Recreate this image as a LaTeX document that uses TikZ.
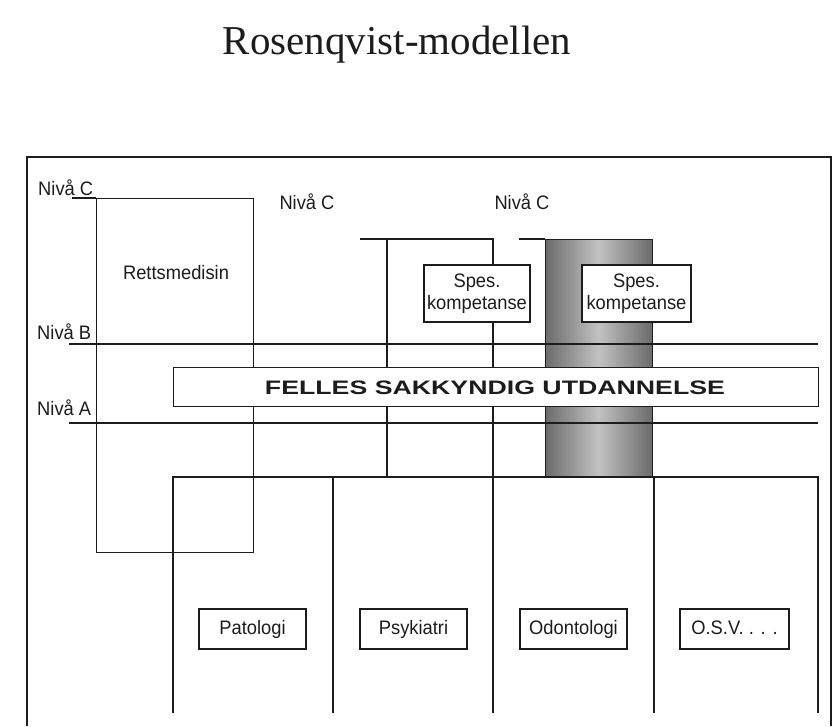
\documentclass[tikz,border=0pt]{standalone}
\usepackage{fontspec}
\setmainfont{Liberation Serif}
\newfontfamily\lsans[FakeStretch=0.94]{Liberation Sans}
\newfontfamily\widebold[FakeStretch=1.37]{Liberation Sans Bold}
\definecolor{ink}{HTML}{1c1c1c}
\begin{document}
\begin{tikzpicture}[x=1pt,y=-1pt,
  ln/.style={draw=ink,line width=1.3pt},
  lbl/.style={font=\lsans\fontsize{19.5}{22}\selectfont,text=ink,inner sep=0pt},
  wbox/.style={draw=ink,line width=1.3pt,fill=white,inner sep=0pt,font=\lsans\fontsize{19.5}{23}\selectfont,text=ink,align=center},
  bbox/.style={wbox,minimum height=40pt,text height=14pt,text depth=4pt},
]
\useasboundingbox (0,0) rectangle (833,726);
\fill[white] (0,0) rectangle (833,726);

% title
\node[font=\fontsize{41}{46}\selectfont,text=ink,inner sep=0pt] (title) at (397,45) {Rosenqvist-modellen};

% outer frame
\coordinate (fbl) at (27,726);
\coordinate (ftl) at (27,157);
\coordinate (ftr) at (831,157);
\coordinate (fbr) at (831,726);
\draw[ln,line width=1.6pt] (fbl) -- (ftl) -- (ftr) -- (fbr);

% shaded column
\shade[left color=black!58,right color=black!58,middle color=black!24] (545,239) rectangle (652,477);
\node[draw=ink,line width=1.3pt,minimum width=107pt,minimum height=238pt,inner sep=0pt,anchor=north west] (shade) at (545,239) {};

% Rettsmedisin box
\node[draw=ink,line width=1.3pt,minimum width=157pt,minimum height=354pt,inner sep=0pt,anchor=north west] (retts) at (96,198) {};
\coordinate (rl) at (72,198);
\draw[ln] (rl) -- (retts.north west);

% Nivaa lines
\coordinate (bL) at (69,344); \coordinate (bR) at (818,344);
\coordinate (aL) at (69,423); \coordinate (aR) at (818,423);
\draw[ln] (bL) -- (bR);
\draw[ln] (aL) -- (aR);

% middle column
\coordinate (m1) at (360,239);
\coordinate (m2) at (387,239);
\coordinate (m3) at (493,239);
\coordinate (m4) at (387,477);
\coordinate (m5) at (493,477);
\draw[ln] (m1) -- (m3) -- (m5);
\draw[ln] (m2) -- (m4);
\coordinate (t1) at (519,239);
\draw[ln] (t1) -- (shade.north west);

% bottom columns
\coordinate (c0) at (173,477); \coordinate (c0b) at (173,713);
\coordinate (c1) at (333,477); \coordinate (c1b) at (333,713);
\coordinate (c2) at (493,477); \coordinate (c2b) at (493,713);
\coordinate (c3) at (654,477); \coordinate (c3b) at (654,713);
\coordinate (c4) at (818,477); \coordinate (c4b) at (818,713);
\draw[ln] (c0b) -- (c0) -- (c4) -- (c4b);
\draw[ln] (c1) -- (c1b);
\draw[ln] (c2) -- (c2b);
\draw[ln] (c3) -- (c3b);

% Felles box
\node[draw=ink,line width=1.3pt,fill=white,minimum width=645pt,minimum height=39pt,inner sep=0pt,anchor=north west] (felles) at (173,367) {};
\node[font=\widebold\fontsize{19.5}{22}\selectfont,text=ink,inner sep=0pt] (fellestxt) at (495,388) {FELLES SAKKYNDIG UTDANNELSE};

% Spes boxes
\node[wbox,minimum width=106pt,minimum height=57pt] (spes1) at (477,293.5) {Spes.\\[-1pt]kompetanse};
\node[wbox,minimum width=109pt,minimum height=57pt] (spes2) at (636.5,293.5) {Spes.\\[-1pt]kompetanse};

% level labels
\node[lbl,anchor=west] (nc1) at (38,188) {Nivå C};
\node[lbl] (nc2) at (307,202) {Nivå C};
\node[lbl] (nc3) at (522,202) {Nivå C};
\node[lbl,anchor=west] (nb) at (37,332) {Nivå B};
\node[lbl,anchor=west] (na) at (37,408) {Nivå A};
\node[lbl] (rtxt) at (176,273) {Rettsmedisin};

% bottom labels
\node[bbox,minimum width=107pt] (pat) at (252.5,629) {Patologi};
\node[bbox,minimum width=107pt] (psy) at (413.5,629) {Psykiatri};
\node[bbox,minimum width=107pt] (odo) at (573.5,629) {Odontologi};
\node[bbox,minimum width=109pt] (osv) at (734.5,629) {O.S.V. . . .};
\end{tikzpicture}
\end{document}
